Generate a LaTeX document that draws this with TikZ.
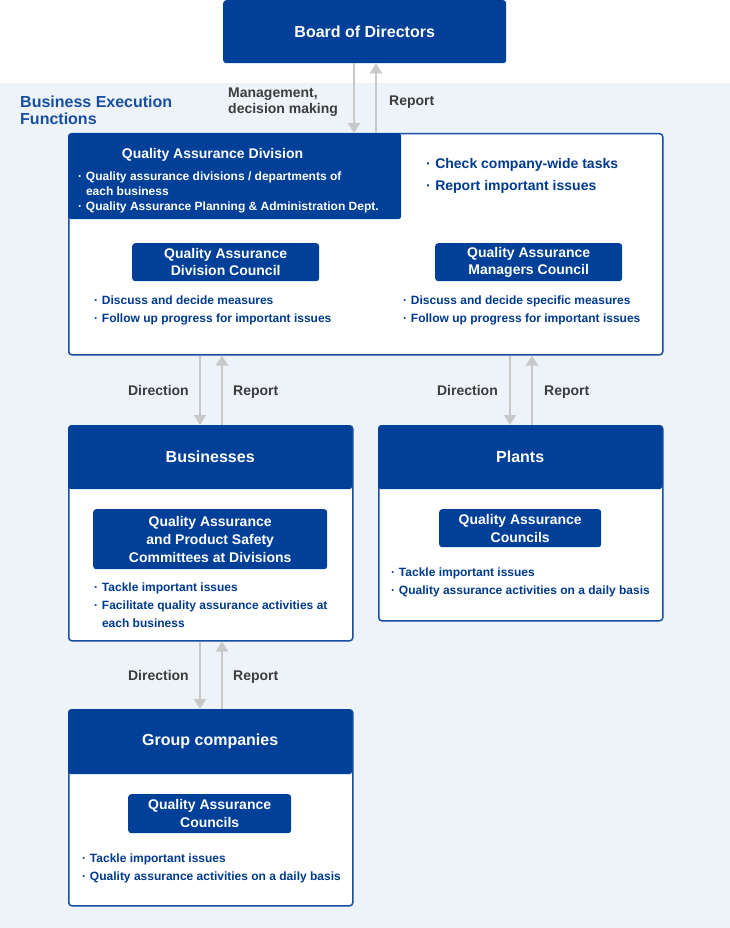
\documentclass[tikz,border=0pt]{standalone}
\usepackage{fontspec}
\setmainfont{Liberation Sans}
\usepackage{xcolor}
\usetikzlibrary{arrows.meta,positioning,calc}
\definecolor{deepblue}{RGB}{0,64,152}
\definecolor{frameblue}{RGB}{24,78,160}
\definecolor{paleblue}{RGB}{238,243,250}
\definecolor{textblue}{RGB}{0,58,142}
\definecolor{labelgray}{RGB}{60,60,60}
\definecolor{arrowgray}{RGB}{200,200,200}
\newcommand{\bul}{\makebox[0.65em][l]{·}}
\newcommand{\fsz}[2]{\fontsize{#1}{#2}\selectfont\bfseries}

\begin{document}
\begin{tikzpicture}[x=1pt,y=-1pt,
    framebox/.style={draw=frameblue,line width=1.5pt,fill=white,rounded corners=3pt,
        inner sep=0,anchor=north west},
    headbox/.style={fill=deepblue,rounded corners=3pt,inner sep=0,anchor=north west,
        text=white,font=\fsz{16}{18}},
    councilbox/.style={fill=deepblue,rounded corners=3pt,inner sep=0,anchor=north west,
        text=white,align=center,font=\fsz{14}{18}},
    itemlist/.style={text=textblue,align=left,inner sep=0,anchor=west,font=\fsz{12}{18}},
    flowlabel/.style={text=labelgray,inner sep=0,font=\fsz{14}{16}},
    flowarrow/.style={draw=arrowgray,line width=2pt,-{Triangle[width=12pt,length=10pt]}}]
    \useasboundingbox (0,0) rectangle (730,928);
    % Background area
    \fill[paleblue] (0,83) rectangle (730,928);
    \node[anchor=west,align=left,inner sep=0,text=frameblue,font=\fsz{16}{17}]
        (execfunc) at (20,110) {Business Execution\\Functions};

    % Board
    \node[headbox,minimum width=283pt,minimum height=63pt] (board) at (223,0) {Board of Directors};

    % Quality Assurance Division
    \node[framebox,minimum width=594pt,minimum height=221pt] (qadiv) at (68,133) {};
    \node[headbox,minimum width=333pt,minimum height=86pt] (qahead) at (68,133) {};
    \node[inner sep=0,text=white,font=\fsz{14}{16}] (qatitle) at (212.5,155) {Quality Assurance Division};
    \node[itemlist,text=white,font=\fsz{12}{15}] (qamembers) at (78,192)
        {\bul Quality assurance divisions / departments of\\
         \hphantom{\bul}each business\\
         \bul Quality Assurance Planning \& Administration Dept.};
    \node[itemlist,font=\fsz{14}{22.5}] (qatasks) at (426,176)
        {\bul Check company-wide tasks\\\bul Report important issues};

    \node[councilbox,minimum width=187pt,minimum height=38pt,font=\fsz{14}{17.5}] (qacouncil)
        at (132,243) {Quality Assurance\\Division Council};
    \node[councilbox,minimum width=187pt,minimum height=38pt,font=\fsz{14}{17.5}] (mgrcouncil)
        at (435,243) {Quality Assurance\\Managers Council};
    \node[itemlist] (qacouncilduty) at (94,310.5)
        {\bul Discuss and decide measures\\\bul Follow up progress for important issues};
    \node[itemlist] (mgrcouncilduty) at (403,310.5)
        {\bul Discuss and decide specific measures\\\bul Follow up progress for important issues};

    % Businesses
    \node[framebox,minimum width=284pt,minimum height=215pt] (biz) at (68,425) {};
    \node[headbox,minimum width=284pt,minimum height=64pt] (bizhead) at (68,425) {Businesses};
    \node[councilbox,minimum width=234pt,minimum height=60pt] (bizcomm) at (93,509)
        {Quality Assurance\\and Product Safety\\Committees at Divisions};
    \node[itemlist] (bizduty) at (94,605)
        {\bul Tackle important issues\\
         \bul Facilitate quality assurance activities at\\
         \hphantom{\bul}each business};

    % Plants
    \node[framebox,minimum width=284pt,minimum height=195pt] (plants) at (378,425) {};
    \node[headbox,minimum width=284pt,minimum height=64pt] (plantshead) at (378,425) {Plants};
    \node[councilbox,minimum width=162pt,minimum height=38pt] (plantcouncil) at (439,509)
        {Quality Assurance\\Councils};
    \node[itemlist] (plantduty) at (391,582.5)
        {\bul Tackle important issues\\\bul Quality assurance activities on a daily basis};

    % Group companies
    \node[framebox,minimum width=284pt,minimum height=196pt] (group) at (68,709) {};
    \node[headbox,minimum width=284pt,minimum height=65pt] (grouphead) at (68,709) {Group companies};
    \node[councilbox,minimum width=163pt,minimum height=39pt] (groupcouncil) at (128,794)
        {Quality Assurance\\Councils};
    \node[itemlist] (groupduty) at (82,868.5)
        {\bul Tackle important issues\\\bul Quality assurance activities on a daily basis};

    % Arrows
    \draw[flowarrow] (board.south -| 354,0) -- (qadiv.north -| 354,0);
    \draw[flowarrow] (qadiv.north -| 376,0) -- (board.south -| 376,0);
    \draw[flowarrow] (qadiv.south -| 200,0) -- (biz.north -| 200,0);
    \draw[flowarrow] (biz.north -| 222,0) -- (qadiv.south -| 222,0);
    \draw[flowarrow] (qadiv.south -| 510,0) -- (plants.north -| 510,0);
    \draw[flowarrow] (plants.north -| 532,0) -- (qadiv.south -| 532,0);
    \draw[flowarrow] (biz.south -| 200,0) -- (group.north -| 200,0);
    \draw[flowarrow] (group.north -| 222,0) -- (biz.south -| 222,0);

    % Arrow labels
    \node[flowlabel,anchor=west,align=left] (mgmtlabel) at (228,102) {Management,\\decision making};
    \node[flowlabel,anchor=west] (boardreport) at (389,102) {Report};
    \node[flowlabel,anchor=east] (bizdir) at (189,390.5) {Direction};
    \node[flowlabel,anchor=west] (bizreport) at (233,392) {Report};
    \node[flowlabel,anchor=east] (plantdir) at (498,390.5) {Direction};
    \node[flowlabel,anchor=west] (plantreport) at (544,392) {Report};
    \node[flowlabel,anchor=east] (groupdir) at (189,675.5) {Direction};
    \node[flowlabel,anchor=west] (groupreport) at (233,677) {Report};
\end{tikzpicture}
\end{document}
